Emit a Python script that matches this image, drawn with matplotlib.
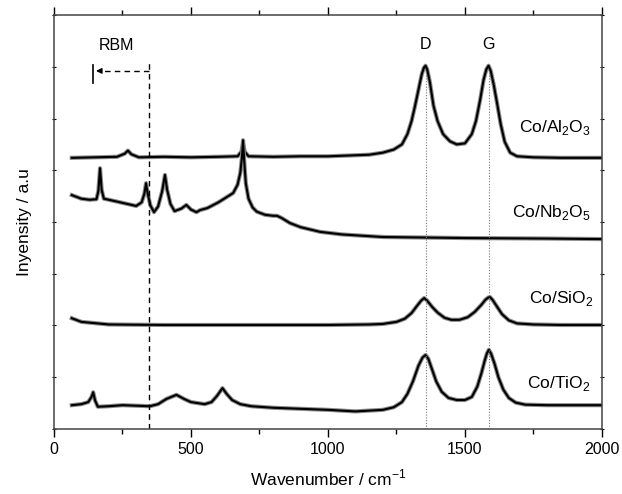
import numpy as np
import matplotlib
matplotlib.use("Agg")
import matplotlib.pyplot as plt
from matplotlib.ticker import MultipleLocator

plt.rcParams['font.family'] = ['Liberation Sans', 'DejaVu Sans']
plt.rcParams['mathtext.fontset'] = 'custom'
plt.rcParams['mathtext.rm'] = 'Liberation Sans'

# --- spectra (wavenumber, offset intensity) ---
al_x = [65, 150, 230, 258, 270, 282, 310, 400, 500, 600, 670, 684, 690, 696, 710, 800, 900, 1000,
        1100, 1150, 1200, 1240, 1270, 1290, 1305, 1318, 1330, 1342, 1350, 1356, 1362, 1372, 1385,
        1400, 1420, 1445, 1470, 1500, 1525, 1540, 1555, 1568, 1578, 1586, 1594, 1605, 1617, 1630,
        1645, 1665, 1690, 1750, 1850, 2000]
al_y = [5.24, 5.25, 5.26, 5.32, 5.38, 5.31, 5.25, 5.26, 5.25, 5.26, 5.27, 5.36, 5.52, 5.36, 5.27, 5.26, 5.27, 5.27,
        5.29, 5.30, 5.34, 5.40, 5.50, 5.70, 5.95, 6.25, 6.55, 6.85, 6.98, 7.02, 6.95, 6.70, 6.25,
        5.95, 5.70, 5.56, 5.50, 5.52, 5.70, 5.95, 6.35, 6.75, 6.95, 7.02, 6.92, 6.65, 6.30, 5.90,
        5.55, 5.34, 5.27, 5.25, 5.24, 5.24]

nb_x = [65, 100, 130, 155, 162, 168, 174, 182, 200, 250, 300, 320, 330, 336, 342, 352, 365, 380,
        395, 405, 413, 425, 440, 465, 483, 500, 520, 533, 560, 600, 630, 654, 670, 680, 686, 690,
        694, 700, 710, 725, 740, 770, 800, 814, 830, 861, 900, 971, 1050, 1200, 1500, 1800, 2000]
nb_y = [4.52, 4.45, 4.43, 4.44, 4.60, 5.04, 4.62, 4.45, 4.43, 4.37, 4.31, 4.38, 4.55, 4.75, 4.55, 4.32, 4.19, 4.30,
        4.60, 4.91, 4.62, 4.35, 4.21, 4.26, 4.33, 4.24, 4.19, 4.23, 4.27, 4.38, 4.48, 4.56, 4.72, 4.95, 5.25, 5.58,
        5.20, 4.75, 4.45, 4.28, 4.20, 4.14, 4.12, 4.12, 4.08, 3.98, 3.90, 3.81, 3.76, 3.71, 3.69, 3.68, 3.67]

si_x = [65, 100, 200, 400, 600, 800, 1000, 1150, 1200, 1250, 1280, 1305, 1325, 1340, 1351, 1362,
        1380, 1400, 1425, 1450, 1480, 1510, 1535, 1560, 1575, 1585, 1591, 1600, 1615, 1635, 1660,
        1690, 1750, 1850, 2000]
si_y = [2.14, 2.07, 2.02, 2.01, 2.01, 2.01, 2.01, 2.02, 2.03, 2.07, 2.13, 2.24, 2.38, 2.48, 2.53, 2.48,
        2.36, 2.25, 2.15, 2.11, 2.11, 2.16, 2.26, 2.40, 2.50, 2.54, 2.55, 2.50, 2.38, 2.22, 2.10,
        2.04, 2.02, 2.01, 2.01]

ti_x = [65, 100, 125, 137, 143, 150, 160, 200, 250, 300, 350, 380, 410, 447, 475, 500, 550, 575,
        595, 615, 630, 650, 680, 720, 800, 900, 1000, 1100, 1200, 1240, 1270, 1290, 1310, 1330,
        1345, 1356, 1366, 1380, 1395, 1415, 1440, 1470, 1500, 1525, 1545, 1560, 1572, 1580, 1587,
        1595, 1608, 1622, 1640, 1660, 1685, 1720, 1800, 1900, 2000]
ti_y = [0.46, 0.48, 0.52, 0.62, 0.71, 0.55, 0.43, 0.44, 0.46, 0.45, 0.44, 0.48, 0.58, 0.66, 0.58, 0.52, 0.48, 0.52,
        0.64, 0.79, 0.68, 0.56, 0.48, 0.44, 0.41, 0.39, 0.37, 0.34, 0.37, 0.42, 0.52, 0.68, 0.92, 1.22,
        1.38, 1.43, 1.36, 1.15, 0.92, 0.72, 0.60, 0.56, 0.56, 0.62, 0.82, 1.08, 1.32, 1.46, 1.53,
        1.46, 1.26, 1.00, 0.76, 0.60, 0.51, 0.47, 0.46, 0.46, 0.46]

series = [(al_x, al_y), (nb_x, nb_y), (si_x, si_y), (ti_x, ti_y)]
labels = ['Co/Al$_\\mathregular{2}$O$_\\mathregular{3}$', 'Co/Nb$_\\mathregular{2}$O$_\\mathregular{5}$',
          'Co/SiO$_\\mathregular{2}$', 'Co/TiO$_\\mathregular{2}$']
label_pos = [(1960, 5.74), (1960, 4.10), (1967, 2.43), (1956, 0.79)]

d_band = 1356
g_band = 1587
rbm_limit = 347
rbm_end = 143

fig = plt.figure(figsize=(6.22, 4.94), dpi=100)
ax = fig.add_axes([0.0868, 0.1316, 0.881, 0.838])

for (x, y) in series:
    ax.plot(x, y, color='#8a8a8a', lw=3.0, solid_joinstyle='round')
    ax.plot(x, y, color='black', lw=1.5, solid_joinstyle='round')

for (xp, yp), lab in zip(label_pos, labels):
    ax.text(xp, yp, lab, ha='right', va='baseline', fontsize=12.5)

# D and G band markers
for xb, name in [(d_band, 'D'), (g_band, 'G')]:
    ax.plot([xb, xb], [0, 6.88], color='#777777', lw=0.8, ls=(0, (1, 1.5)))
    ax.text(xb, 7.34, name, ha='center', va='baseline', fontsize=11.5)

# RBM region
ax.plot([rbm_limit, rbm_limit], [0, 7.09], color='black', lw=1.0, ls=(0, (4, 3)))
ax.plot([rbm_limit, rbm_end + 25], [6.92, 6.92], color='black', lw=1.0, ls=(0, (4, 3)))
ax.annotate('', xy=(rbm_end, 6.92), xytext=(rbm_end + 40, 6.92),
            arrowprops=dict(arrowstyle='-|>', color='black', lw=1.0, mutation_scale=8))
ax.plot([rbm_end, rbm_end], [6.69, 7.03], color='black', lw=1.2)
ax.text(227, 7.32, 'RBM', ha='center', va='baseline', fontsize=11.5)

ax.set_xlim(0, 2000)
ax.set_ylim(0, 8)
ax.xaxis.set_major_locator(MultipleLocator(500))
ax.xaxis.set_minor_locator(MultipleLocator(250))
ax.yaxis.set_major_locator(MultipleLocator(1))
ax.tick_params(axis='x', which='major', direction='out', length=6, width=1, labelsize=11.5)
ax.tick_params(axis='x', which='minor', direction='out', length=3.5, width=1)
ax.tick_params(axis='x', which='both', top=True)
ax.tick_params(axis='y', which='both', direction='inout', length=3, left=True, right=True,
               labelleft=False)
for side in ['top', 'right', 'bottom', 'left']:
    ax.spines[side].set_linewidth(1.1)
    ax.spines[side].set_color('#444444')

ax.set_xlabel('Wavenumber / cm$^\\mathregular{-1}$', fontsize=12.5, labelpad=8)
ax.set_ylabel('Inyensity / a.u', fontsize=12.5, labelpad=14)

fig.savefig('out.png', dpi=100)
plt.close(fig)
